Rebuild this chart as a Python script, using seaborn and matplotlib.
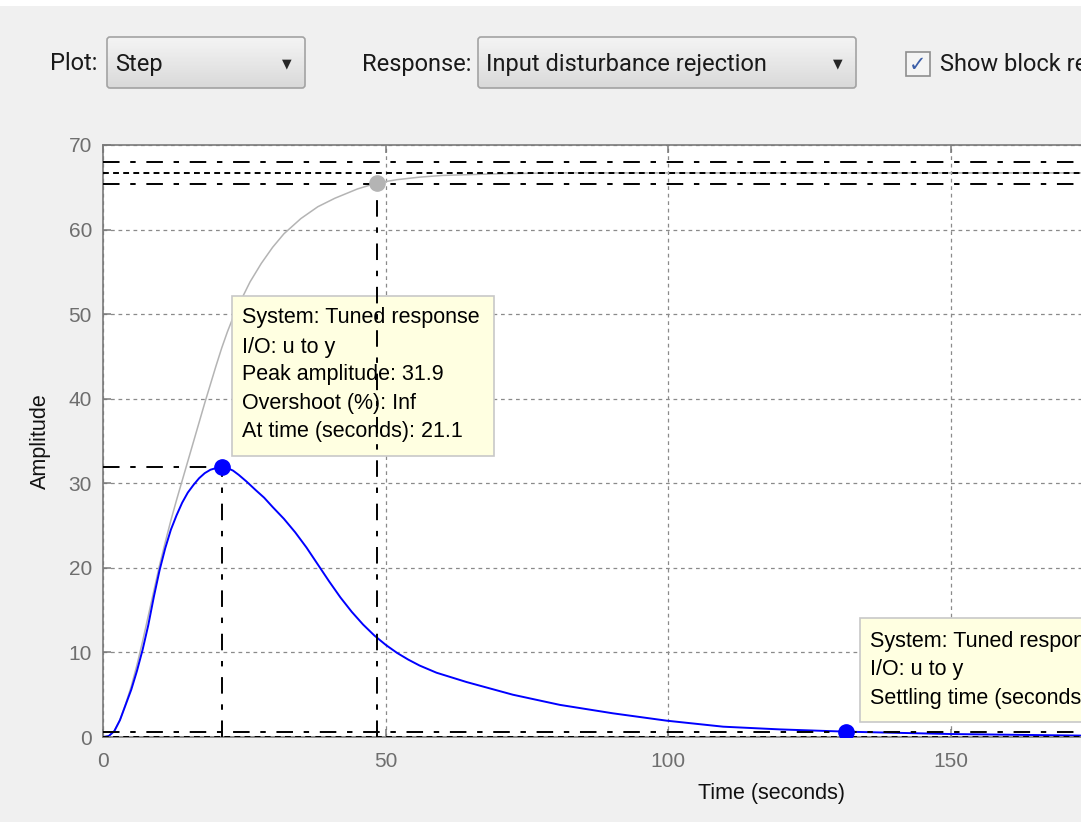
import numpy as np
import seaborn as sns
import matplotlib.pyplot as plt
from matplotlib.patches import Rectangle, FancyBboxPatch

# tuned response (blue)
time_tuned = [0, 1, 2, 3, 4, 5, 6, 7, 8, 9, 10, 11, 12, 13, 14, 15, 16, 17, 18, 19, 20, 21.1,
              22, 23, 24, 25.4, 27, 28.5, 30, 32, 34, 36, 38, 40, 42, 44, 46, 48, 50, 52,
              54, 56, 59, 64.3, 72.5, 80.8, 90.2, 99.7, 109.7, 119.7, 131.5, 150, 175]
amp_tuned = [0, 0.1, 0.7, 2.0, 3.8, 5.6, 7.8, 10.3, 13.2, 16.6, 19.7, 22.3, 24.5, 26.2, 27.7,
             28.9, 29.8, 30.6, 31.2, 31.6, 31.8, 31.9, 31.8, 31.5, 31.0, 30.2, 29.2, 28.3,
             27.2, 25.8, 24.2, 22.4, 20.4, 18.4, 16.5, 14.8, 13.3, 12.0, 10.9, 9.95, 9.15,
             8.45, 7.6, 6.5, 5.0, 3.8, 2.8, 1.93, 1.22, 0.9, 0.63, 0.35, 0.15]

# block response (gray)
time_block = [0, 1, 2, 3, 4, 5, 6, 7, 8, 9, 10, 11, 12, 13, 14, 15, 16, 17, 18, 19, 20, 21,
              22, 23, 24, 26, 28, 30, 32, 35, 38, 41, 45, 48.4, 52, 56, 60, 70, 80, 100, 140,
              175]
amp_block = [0, 0.1, 0.7, 2.0, 3.9, 6.0, 8.5, 11.3, 14.3, 17.3, 20.3, 23.0, 25.6, 28.0, 30.3,
             32.6, 34.9, 37.2, 39.5, 41.7, 43.9, 46.0, 47.9, 49.6, 51.1, 53.8, 56.0, 57.9,
             59.5, 61.3, 62.7, 63.7, 64.8, 65.5, 65.9, 66.2, 66.4, 66.6, 66.7, 66.7, 66.7,
             66.7]

peak_time, peak_amp = 21.1, 31.9
settle_tuned, settle_tuned_amp = 131.5, 0.63
settle_block, settle_block_amp = 48.4, 65.5
final_block, final_tuned = 66.7, 0.0
band = 0.02

x_ticks = [0, 50, 100, 150]
y_ticks = [0, 10, 20, 30, 40, 50, 60, 70]

tip1 = ['System: Tuned response', 'I/O: u to y', 'Peak amplitude: 31.9',
        'Overshoot (%): Inf', 'At time (seconds): 21.1']
tip2 = ['System: Tuned response', 'I/O: u to y', 'Settling time (seconds): 132']

sns.set_theme(style='ticks', rc={'axes.spines.right': False})
plt.rcParams['font.family'] = ['Liberation Sans', 'DejaVu Sans']

W, H = 1081, 822
fig = plt.figure(figsize=(W / 100, H / 100), dpi=100, facecolor='#f0f0f0')


def px_rect(x0, y0, x1, y1):
    return [x0 / W, 1 - y1 / H, (x1 - x0) / W, (y1 - y0) / H]


# ---- the toolbar row above the plot (pixel coords)
ui = fig.add_axes([0, 0, 1, 1], zorder=-1)
ui.set_xlim(0, W)
ui.set_ylim(H, 0)
ui.axis('off')
ui.add_patch(Rectangle((0, 0), W, 6, fc='white', ec='none'))

ui_font = ['Roboto', 'DejaVu Sans']
grad = np.linspace(0, 1, 50)[:, None]
for (x0, x1, label) in [(107, 305, 'Step'), (478, 856, 'Input disturbance rejection')]:
    box = FancyBboxPatch((x0, 37), x1 - x0, 51, boxstyle='round,pad=0,rounding_size=3',
                         fc='none', ec='#a3a3a3', lw=1.2, zorder=2)
    ui.add_patch(box)
    im = ui.imshow(grad, extent=(x0, x1, 88, 37), cmap='Greys', vmin=-0.667, vmax=6.0,
                   aspect='auto', zorder=0.5)
    im.set_clip_path(box)
    ui.text(x0 + 8, 64, label, fontsize=17, family=ui_font, va='center', color='#1a1a1a')
    ui.text(x1 - 18, 64, '\u25bc', fontsize=9, va='center', ha='center', family='DejaVu Sans')
ui.text(50, 64, 'Plot:', fontsize=17, family=ui_font, va='center', color='#1a1a1a')
ui.text(362, 64, 'Response:', fontsize=17, family=ui_font, va='center', color='#1a1a1a')
ui.add_patch(Rectangle((906, 52), 24, 24, fc='#f4f4f4', ec='#8e8e8e', lw=1.2))
ui.text(918, 65, '\u2713', fontsize=15, ha='center', va='center', color='#3b5ea8',
        family='DejaVu Sans')
ui.text(940, 64, 'Show block response', fontsize=17, family=ui_font, va='center',
        color='#1a1a1a')
ui.set_xlim(0, W)
ui.set_ylim(H, 0)

# ---- main plot
ax = fig.add_axes(px_rect(103, 145, 1081, 737))
ax.set_facecolor('white')

dashdot = (0, (8.5, 5.5, 2.8, 5.5))
dashed = (0, (3.0, 2.2))

sns.lineplot(x=time_block, y=amp_block, color='#b4b4b4', lw=1.1, ax=ax, zorder=2)
sns.lineplot(x=time_tuned, y=amp_tuned, color='#0000ff', lw=1.4, ax=ax, zorder=2)

ref = dict(color='black', lw=1.4, zorder=4)
ax.axhline(final_block * (1 + band), ls=dashdot, **ref)
ax.axhline(final_block, ls=dashed, **ref)
ax.axhline(final_block * (1 - band), ls=dashdot, **ref)
ax.axhline(final_tuned + band * peak_amp, ls=dashdot, **ref)
ax.axhline(final_tuned, ls=dashed, **ref)
ax.plot([peak_time, peak_time], [0, peak_amp], ls=dashdot, **ref)
ax.plot([0, peak_time], [peak_amp, peak_amp], ls=dashdot, **ref)
ax.plot([settle_block, settle_block], [0, settle_block_amp], ls=dashdot, **ref)

ax.plot([peak_time, settle_tuned], [peak_amp, settle_tuned_amp], 'o', ms=11,
        color='#0000ff', zorder=6)
ax.plot([settle_block], [settle_block_amp], 'o', ms=11, color='#b4b4b4', zorder=6)

ax.set_xticks(x_ticks)
ax.set_yticks(y_ticks)
ax.set_xlim(0, 978 / (848 / 150))
ax.set_ylim(0, 70)
ax.grid(True, color='#8a8a8a', linestyle=(0, (3, 3)), lw=0.9)
ax.set_axisbelow(True)
for s in ['left', 'top', 'bottom']:
    ax.spines[s].set_color('#7a7a7a')
    ax.spines[s].set_linewidth(1.2)
ax.tick_params(direction='in', length=6, width=1.1, color='#7a7a7a', labelcolor='#6e6e6e',
               labelsize=15, top=True)
ax.tick_params(axis='x', pad=11)
ax.tick_params(axis='y', pad=8)

ax.set_xlabel('Time (seconds)', fontsize=15.5, color='#111111')
ax.xaxis.set_label_coords((772 - 103) / 978, -(783 - 737) / 592)
ax.set_ylabel('Amplitude', fontsize=15.5, color='#111111', va='center')
ax.yaxis.set_label_coords((40 - 103) / 978, 0.5)


def tooltip(x0, y0, x1, y1, lines, ys):
    ax.add_patch(Rectangle(((x0 - 103) / 978, (737 - y1) / 592), (x1 - x0) / 978,
                           (y1 - y0) / 592, transform=ax.transAxes, fc='#ffffe1',
                           ec='#c8c8c8', lw=1.2, zorder=3, clip_on=True))
    for line, yy in zip(lines, ys):
        ax.text((x0 + 10 - 103) / 978, (737 - yy) / 592, line, transform=ax.transAxes,
                fontsize=15.5, va='center', ha='left', color='black', zorder=5,
                clip_on=True)


tooltip(232, 296, 494, 456, tip1, [318, 347, 375, 403, 432])
tooltip(860, 618, 1120, 722, tip2, [642, 670, 698])

fig.savefig('out.png', dpi=100, facecolor=fig.get_facecolor())
